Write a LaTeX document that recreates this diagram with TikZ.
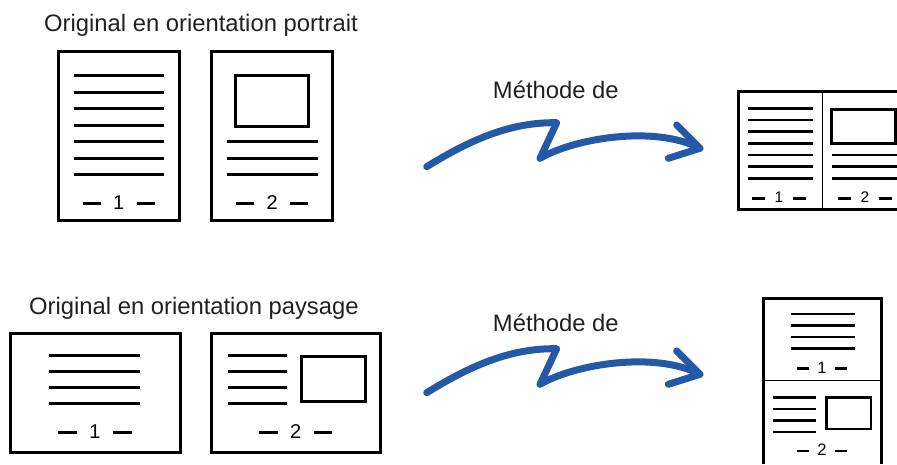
\documentclass[tikz,border=0pt]{standalone}
\usepackage{fontspec}
\setmainfont{Liberation Sans}
\definecolor{arrowblue}{RGB}{36,89,168}
\definecolor{ink}{RGB}{35,31,32}
\newcommand\pgnum[4]{{\fontsize{#2}{#2}\selectfont\rule[0.2em]{#3}{0.16em}\hspace{#4}#1\hspace{#4}\rule[0.2em]{#3}{0.16em}}}
\tikzset{
  frame/.style={draw=black, line width=3pt},
  txtline/.style={draw=black, line width=3pt},
  smline/.style={draw=black, line width=2.6pt},
  divider/.style={draw=black, line width=1.2pt},
  title/.style={inner sep=0pt, anchor=base west, text=ink, font=\fontsize{23.8}{28}\selectfont},
  numlbl/.style={inner sep=0pt, anchor=base, text=black},
  bigarrow/.style={draw=arrowblue, line width=7pt, line cap=round, line join=round},
}
\begin{document}
\begin{tikzpicture}[x=1pt,y=-1pt]
\useasboundingbox (0,0) rectangle (897,464);
% titles
\node[title] (t1) at (44,31.7) {Original en orientation portrait};
\node[title] (t2) at (29,314.5) {Original en orientation paysage};
% ---------- portrait page 1
\draw[frame] (58.3,51.7) rectangle (179.3,220);
\foreach \y in {75.7,92.2,108.7,125.2,141.7,158.2,174.7}
  \draw[txtline] (74.3,\y) -- (164.3,\y);
\node[numlbl] (p1n) at (118.8,209) {\pgnum{1}{20}{18pt}{12.5pt}};
% ---------- portrait page 2
\draw[frame] (211.7,51.7) rectangle (332.7,220);
\draw[txtline] (235.7,75.7) rectangle (308.7,126);
\foreach \y in {141.7,158.2,174.7}
  \draw[txtline] (226.7,\y) -- (317.7,\y);
\node[numlbl] (p2n) at (272.2,209) {\pgnum{2}{20}{18pt}{12.5pt}};
% ---------- landscape page 1
\draw[frame] (10,333.3) rectangle (180,452.7);
\foreach \y in {355,371.2,387.4,403.6}
  \draw[txtline] (49.3,\y) -- (140,\y);
\node[numlbl] (l1n) at (95,438.3) {\pgnum{1}{20}{18.5pt}{12.5pt}};
% ---------- landscape page 2
\draw[frame] (211,333.3) rectangle (380.5,452.7);
\foreach \y in {355,371.2,387.4,403.6}
  \draw[txtline] (227.7,\y) -- (287.3,\y);
\draw[txtline] (301.7,356) rectangle (365.7,401);
\node[numlbl] (l2n) at (295.8,438.3) {\pgnum{2}{20}{18.5pt}{12.5pt}};
% ---------- arrows and captions
\node[numlbl, text=ink, font=\fontsize{23.8}{28}\selectfont] (m1) at (555.8,98.3) {Méthode de};
\node[numlbl, text=ink, font=\fontsize{23.8}{28}\selectfont] (m2) at (555.8,331.7) {Méthode de};
\foreach \dy/\nm in {0/a,226/b}{
  \begin{scope}[yshift=-\dy pt]
    \coordinate (\nm S) at (426.7,166.7);
    \coordinate (\nm P) at (556.7,122.7);
    \coordinate (\nm V) at (540,158.3);
    \coordinate (\nm T) at (700,148.3);
    \coordinate (\nm B1) at (676.7,125);
    \coordinate (\nm B2) at (668.3,158.3);
    \draw[bigarrow] (\nm S) .. controls (470,140) and (510,122) .. (\nm P) -- (\nm V)
       .. controls (575,138) and (655,125) .. (\nm T);
    \draw[bigarrow] (\nm B1) -- (\nm T) -- (\nm B2);
  \end{scope}
}
% ---------- result: book (top right)
\draw[frame] (897,91.7) -- (738.3,91.7) -- (738.3,209) -- (897,209);
\draw[divider] (822.3,91.7) -- (822.3,209);
\foreach \y in {108.3,120,131.7,143.3,155,166.7,178.3}
  \draw[smline] (748.3,\y) -- (812.7,\y);
\draw[smline] (831.7,109.3) rectangle (895.7,143.3);
\foreach \y in {155,166.7,178.3}
  \draw[smline] (831.7,\y) -- (897,\y);
\node[numlbl] (r1n) at (779,202.7) {\pgnum{1}{15.4}{13pt}{9.4pt}};
\node[numlbl] (r2n) at (865,202.7) {\pgnum{2}{15.4}{13pt}{9.4pt}};
% ---------- result: stacked (bottom right)
\draw[frame] (763.3,464) -- (763.3,298.3) -- (881.7,298.3) -- (881.7,464);
\draw[divider] (763.3,380.7) -- (881.7,380.7);
\foreach \y in {314,325.5,337,348.5}
  \draw[smline] (790.7,\y) -- (855,\y);
\node[numlbl] (s1n) at (822,373.3) {\pgnum{1}{16.5}{11.7pt}{8.5pt}};
\foreach \y in {397.3,408.8,420.3,431.8}
  \draw[smline] (773.3,\y) -- (816,\y);
\draw[smline] (826.7,397.7) rectangle (871,429);
\node[numlbl] (s2n) at (822,455.7) {\pgnum{2}{16.5}{11.7pt}{8.5pt}};
\end{tikzpicture}
\end{document}
